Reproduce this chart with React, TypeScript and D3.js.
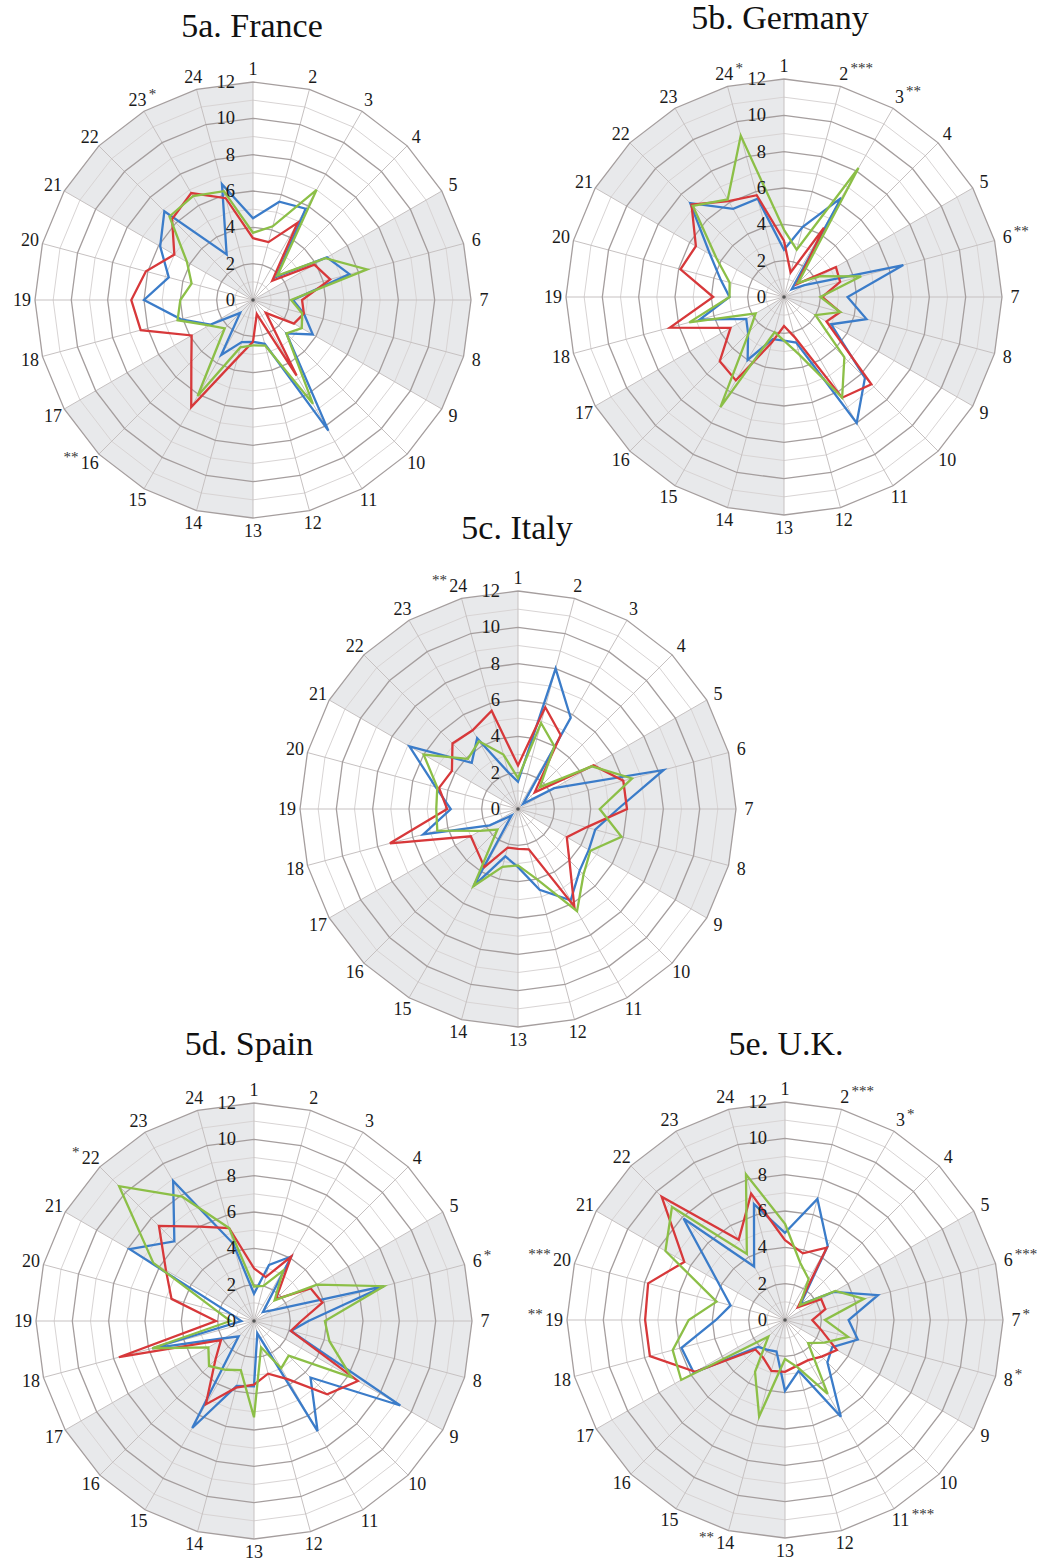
import React from "react";
import * as d3 from "d3";

// hour labels round each radar, 1 at the top, clockwise
const hours = ["1", "2", "3", "4", "5", "6", "7", "8", "9", "10", "11", "12",
  "13", "14", "15", "16", "17", "18", "19", "20", "21", "22", "23", "24"];
const majorTicks = [0, 2, 4, 6, 8, 10, 12];
const minorTicks = [1, 3, 5, 7, 9, 11];
// grey sectors, from hour spoke to hour spoke (25 = back to 1)
const shadedSpans = [[5, 9], [13, 17], [21, 25]];

const franceBlue = [4.5, 5.6, 5.8, 1.8, 4.7, 5.5, 2.2, 2.9, 3.8, 2.6, 8.3, 2.5, 2.3, 2.4, 3.5, 1.0, 2.7, 4.1, 6.0, 4.8, 5.9, 6.9, 2.9, 6.6];
const franceRed = [3.4, 3.3, 4.9, 1.5, 3.9, 4.4, 2.7, 2.9, 2.6, 1.0, 4.8, 0.8, 2.3, 3.3, 6.8, 4.8, 3.9, 6.4, 6.7, 6.1, 5.0, 6.3, 6.8, 5.8];
const franceGreen = [3.7, 4.2, 7.0, 1.9, 4.6, 6.5, 2.1, 2.8, 3.1, 2.6, 6.6, 2.6, 2.5, 2.7, 6.1, 2.2, 2.8, 4.3, 4.0, 3.5, 4.2, 6.5, 6.6, 6.2];

const germanyBlue = [2.6, 4.0, 6.3, 0.6, 1.3, 6.8, 3.5, 4.7, 3.0, 6.3, 8.0, 2.6, 2.4, 2.4, 4.0, 2.8, 2.4, 4.8, 3.0, 3.6, 4.7, 7.3, 5.6, 5.6];
const germanyRed = [3.1, 1.4, 4.4, 1.0, 3.3, 3.2, 2.1, 3.2, 2.7, 6.8, 6.4, 2.3, 1.6, 2.6, 5.3, 5.0, 3.4, 6.5, 3.9, 5.9, 5.6, 7.2, 6.1, 5.8];
const germanyGreen = [3.7, 2.7, 8.2, 1.1, 2.3, 4.4, 2.0, 3.2, 2.0, 4.7, 6.4, 3.3, 2.4, 2.0, 7.0, 2.7, 1.8, 5.4, 3.0, 3.1, 4.3, 7.1, 6.2, 9.2];

const italyBlue = [1.5, 8.0, 5.8, 0.4, 2.3, 8.3, 5.5, 4.4, 4.5, 4.8, 5.8, 4.6, 3.2, 2.7, 4.9, 0.5, 1.8, 5.4, 3.7, 4.7, 6.9, 3.6, 4.5, 2.1];
const italyRed = [2.4, 5.8, 4.7, 1.3, 4.8, 6.0, 6.0, 3.9, 3.1, 4.0, 6.2, 2.3, 2.2, 2.2, 3.7, 3.2, 3.0, 7.3, 3.9, 4.5, 4.2, 5.1, 5.0, 5.6];
const italyGreen = [1.7, 4.9, 4.0, 1.7, 4.7, 6.5, 4.5, 5.9, 4.6, 5.1, 6.5, 4.0, 3.1, 3.3, 4.9, 1.6, 2.4, 4.6, 4.5, 4.6, 6.0, 3.9, 4.3, 3.1];

const spainBlue = [1.5, 3.2, 4.1, 0.7, 1.2, 7.4, 3.0, 2.1, 9.3, 4.4, 7.0, 0.7, 3.6, 3.7, 6.8, 1.2, 1.9, 5.8, 0.7, 1.2, 7.9, 6.2, 8.9, 4.4];
const spainRed = [2.9, 2.5, 4.1, 1.7, 3.6, 3.9, 2.6, 2.1, 6.6, 5.7, 3.7, 3.0, 3.5, 3.8, 5.3, 3.0, 2.1, 7.7, 2.1, 4.7, 5.6, 7.4, 6.0, 5.3];
const spainGreen = [1.9, 2.0, 3.2, 1.6, 4.0, 7.4, 3.9, 4.3, 6.2, 2.7, 3.0, 1.5, 5.3, 2.8, 3.1, 3.5, 2.9, 5.8, 1.3, 2.1, 6.4, 10.5, 7.9, 5.3];

const ukBlue = [4.8, 6.9, 4.7, 1.2, 3.1, 5.3, 3.5, 4.15, 3.0, 3.3, 6.15, 2.9, 3.9, 1.8, 1.9, 2.1, 5.8, 5.9, 3.8, 3.1, 4.3, 7.9, 3.4, 6.6];
const ukRed = [4.4, 3.8, 4.6, 1.0, 2.3, 2.3, 1.5, 2.05, 3.3, 2.85, 2.55, 2.6, 2.85, 2.9, 2.4, 2.3, 5.7, 7.7, 7.7, 7.8, 6.4, 9.6, 5.1, 7.2];
const ukGreen = [5.3, 3.25, 2.6, 1.15, 3.2, 4.5, 2.2, 3.6, 2.5, 1.8, 4.7, 2.7, 2.15, 5.5, 3.3, 1.3, 6.6, 6.4, 5.3, 3.9, 7.6, 8.8, 4.2, 8.3];

// significance marks next to hour labels (lead = written before the label)
const franceStars = [{ hour: 23, mark: "*", lead: false }, { hour: 16, mark: "**", lead: true }];
const germanyStars = [
  { hour: 24, mark: "*", lead: false },
  { hour: 2, mark: "***", lead: false },
  { hour: 3, mark: "**", lead: false },
  { hour: 6, mark: "**", lead: false },
];
const italyStars = [{ hour: 24, mark: "**", lead: true }];
const spainStars = [{ hour: 22, mark: "*", lead: true }, { hour: 6, mark: "*", lead: false }];
const ukStars = [
  { hour: 2, mark: "***", lead: false },
  { hour: 3, mark: "*", lead: false },
  { hour: 6, mark: "***", lead: false },
  { hour: 7, mark: "*", lead: false },
  { hour: 8, mark: "*", lead: false },
  { hour: 11, mark: "***", lead: false },
  { hour: 14, mark: "**", lead: true },
  { hour: 19, mark: "**", lead: true },
  { hour: 20, mark: "***", lead: true },
];

const BLUE = "#3b7cc9";
const RED = "#d7383a";
const GREEN = "#8cbf47";
const FONT = "'Liberation Serif', 'Times New Roman', serif";

const RADIUS = 218;
const LABEL_R = 231;
const rScale = d3.scaleLinear().domain([0, 12]).range([0, RADIUS]);
const aScale = d3.scaleLinear().domain([0, 24]).range([0, 2 * Math.PI]);

const polygon = d3.lineRadial<number>()
  .angle((d, i) => aScale(i))
  .radius((d) => rScale(d))
  .curve(d3.curveLinearClosed);

const wedge = d3.lineRadial<number[]>()
  .angle((d) => d[0])
  .radius((d) => d[1])
  .curve(d3.curveLinearClosed);

type Star = { hour: number; mark: string; lead: boolean };

type RadarProps = {
  cx: number;
  cy: number;
  title: string;
  titleX: number;
  titleY: number;
  blue: number[];
  red: number[];
  green: number[];
  stars: Star[];
};

const Radar = (props: RadarProps) => {
  const { cx, cy, title, titleX, titleY, blue, red, green, stars } = props;

  return (
    <g>
      <text x={titleX} y={titleY} textAnchor="middle" fontFamily={FONT} fontSize={34} fill="#111">
        {title}
      </text>
      <g transform={`translate(${cx},${cy})`}>
        {/* shaded sectors */}
        {shadedSpans.map(([a, b], i) => {
          const pts = [[0, 0]].concat(d3.range(a, b + 1).map((h) => [aScale(h - 1), RADIUS]));
          return <path key={"s" + i} d={wedge(pts) || ""} fill="#e8e9eb" stroke="none" />;
        })}

        {/* minor rings */}
        {minorTicks.map((v) => (
          <path key={"m" + v} d={polygon(hours.map(() => v)) || ""} fill="none" stroke="#d8d4d4" strokeWidth={1} />
        ))}

        {/* spokes */}
        {hours.map((h, i) => {
          const p = d3.pointRadial(aScale(i), RADIUS);
          return <line key={"k" + h} x1={0} y1={0} x2={p[0]} y2={p[1]} stroke="#c6c1c1" strokeWidth={1} />;
        })}

        {/* major rings */}
        {majorTicks.filter((v) => v > 0).map((v) => (
          <path key={"M" + v} d={polygon(hours.map(() => v)) || ""} fill="none" stroke="#a59e9e" strokeWidth={1.3} />
        ))}

        <circle r={1.8} fill="#555" />

        {/* series */}
        <path d={polygon(blue) || ""} fill="none" stroke={BLUE} strokeWidth={2.3} strokeLinejoin="miter" />
        <path d={polygon(red) || ""} fill="none" stroke={RED} strokeWidth={2.3} strokeLinejoin="miter" />
        <path d={polygon(green) || ""} fill="none" stroke={GREEN} strokeWidth={2.3} strokeLinejoin="miter" />

        {/* radial tick labels */}
        {majorTicks.map((v) => (
          <text key={"t" + v} x={-18} y={-rScale(v)} textAnchor="end" dominantBaseline="central"
            fontFamily={FONT} fontSize={18.5} fill="#1a1a1a">
            {v}
          </text>
        ))}

        {/* hour labels */}
        {hours.map((h, i) => {
          const p = d3.pointRadial(aScale(i), LABEL_R);
          return (
            <text key={"h" + h} x={p[0]} y={p[1]} textAnchor="middle" dominantBaseline="central"
              fontFamily={FONT} fontSize={18} fill="#1a1a1a">
              {h}
            </text>
          );
        })}

        {/* significance marks, set as superscripts */}
        {stars.map((s) => {
          const i = s.hour - 1;
          const p = d3.pointRadial(aScale(i), LABEL_R);
          const half = hours[i].length * 4.6;
          return (
            <text key={"a" + s.hour} x={s.lead ? p[0] - half - 2 : p[0] + half + 2} y={p[1] - 1}
              textAnchor={s.lead ? "end" : "start"} fontFamily={FONT} fontSize={15} fill="#333">
              {s.mark}
            </text>
          );
        })}
      </g>
    </g>
  );
};

const App = () => {
  return (
    <svg width={1042} height={1561} style={{ position: "absolute", left: 0, top: 0, background: "#fff" }}>
      <Radar cx={253} cy={300} title="5a. France" titleX={252} titleY={37}
        blue={franceBlue} red={franceRed} green={franceGreen} stars={franceStars} />
      <Radar cx={784} cy={297} title="5b. Germany" titleX={780} titleY={29}
        blue={germanyBlue} red={germanyRed} green={germanyGreen} stars={germanyStars} />
      <Radar cx={518} cy={809} title="5c. Italy" titleX={517} titleY={539}
        blue={italyBlue} red={italyRed} green={italyGreen} stars={italyStars} />
      <Radar cx={254} cy={1321} title="5d. Spain" titleX={249} titleY={1055}
        blue={spainBlue} red={spainRed} green={spainGreen} stars={spainStars} />
      <Radar cx={785} cy={1320} title="5e. U.K." titleX={786} titleY={1055}
        blue={ukBlue} red={ukRed} green={ukGreen} stars={ukStars} />
    </svg>
  );
};

export default App;
